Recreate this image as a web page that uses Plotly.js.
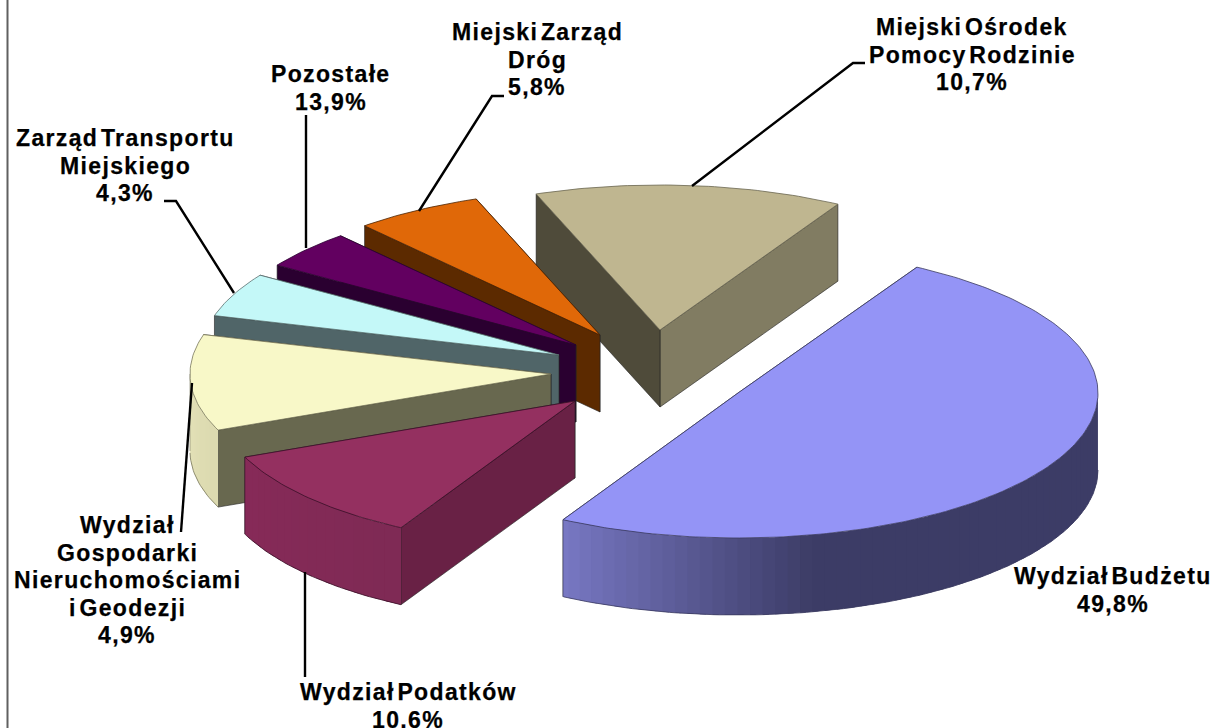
<!DOCTYPE html>
<html>
<head>
<meta charset="utf-8">
<script src="https://cdn.plot.ly/plotly-3.0.1.min.js"></script>
<style>
html,body{margin:0;padding:0;background:#fff}
#chart{width:1218px;height:728px}
.annotation-text{letter-spacing:1.35px;word-spacing:-5px;stroke:#000;stroke-width:0.25px}
</style>
</head>
<body>
<div id="chart"></div>
<script>
// ---- data ----
const sliceNames = ['Miejski Ośrodek Pomocy Rodzinie','Miejski Zarząd Dróg','Pozostałe','Zarząd Transportu Miejskiego','Wydział Gospodarki Nieruchomościami i Geodezji','Wydział Podatków','Wydział Budżetu'];
// printed percentages
const labelShares = [10.7, 5.8, 13.9, 4.3, 4.9, 10.6, 49.8];
// share of the circle each drawn sector actually takes up
const drawnShares = [13.9, 5.8, 4.3, 4.9, 10.7, 10.6, 49.8];

// ---- styles ----
const topColors   = ['#bfb690','#e06808','#620060','#c4f8f8','#f8f8c8','#943060','#9494f6'];
const faceColors  = ['#4f4b3a','#5c2a00','#2a0030','#506568','#68684f','#692145','#3c3c66'];
const endColors   = ['#817c62','#5c2a00','#2a0030','#506568','#68684f','#692145','#3c3c66'];
const sideDark    = ['#817c62','#5c2a00','#2a0030','#506568','#dcdab0','#7f2a55','#3c3c66'];
const sideLight   = ['#817c62','#5c2a00','#2a0030','#506568','#e4e2b8','#872a58','#7b7bc8'];
const flatUntil   = [0,0,0,0,157,119,76];
const edgeColors  = ['#6a6650','#4a2200','#2a0030','#5a7070','#77765a','#3a1028','#3a3a60'];

// ---- geometry of the tilted pie ----
const centerX = [660,600,576,559,551,575,738];
const centerY = [330,335,345,355,374,401,393];
const radiiX  = [358,358,358,358,361,358,360];
const radiusY = 145, depth = 77;
const firstAngle = 299.8;   // degrees, clockwise on screen, where the first sector ends

const labelLines = [
  ['Miejski Ośrodek','Pomocy Rodzinie'],['Miejski Zarząd','Dróg'],['Pozostałe'],
  ['Zarząd Transportu','Miejskiego'],['Wydział','Gospodarki','Nieruchomościami','i Geodezji'],
  ['Wydział Podatków'],['Wydział Budżetu']
];
const labelX = [972,537,331,125,127,408,1113];
const labelY = [27,32,74,138,525,692,576];
const lineGap = 27.5;
const leaderX = [[865,853,692],[504,492,419],[306,306],[164,176,234],[181,192],[305,305],[]];
const leaderY = [[63,63,186],[96,96,211],[115,248],[201,201,293],[532,383],[572,677],[]];

const rad = d => d*Math.PI/180;
const ex = (i,t) => centerX[i]+radiiX[i]*Math.cos(rad(t));
const ey = (i,t) => centerY[i]+radiusY*Math.sin(rad(t));
const hex = c => [1,3,5].map(k=>parseInt(c.substr(k,2),16));
function mix(a,b,f){const A=hex(a),B=hex(b);return 'rgb('+A.map((v,k)=>Math.round(v+(B[k]-v)*f)).join(',')+')';}
function poly(xs,ys,fill,line,w){
  return {type:'scatter',mode:'lines',x:xs,y:ys,fill:'toself',fillcolor:fill,
          line:{color:line,width:w},hoverinfo:'skip',showlegend:false};
}
function stroke(xs,ys,c,w){
  return {type:'scatter',mode:'lines',x:xs,y:ys,line:{color:c,width:w},hoverinfo:'skip',showlegend:false};
}

const traces = [];
let a = firstAngle;
drawnShares.forEach((share,i)=>{
  const t1 = a, t0 = a - share*3.6; a = t0;
  const cx = centerX[i], cy = centerY[i];
  // radial faces
  [[t1,endColors[i]],[t0,faceColors[i]]].forEach(([t,c])=>{
    traces.push(poly([cx,ex(i,t),ex(i,t),cx,cx],[cy,ey(i,t),ey(i,t)+depth,cy+depth,cy],c,'#222222',0.6));
  });
  // curved outer wall (only its front half shows); strips overlap so no seams appear
  const lo = Math.max(t0,0), hi = Math.min(t1,180);
  if (hi>lo){
    const step = 2;
    for (let t=hi-step;t>lo-step;t-=step){
      const s=Math.max(t,lo), e=Math.min(s+step+1,hi);
      const f=Math.max(0,Math.min(1,(s-flatUntil[i])/(hi-flatUntil[i]||1)));
      const c=mix(sideDark[i],sideLight[i],f);
      const xs=[],ys=[];
      for(let q=s;q<=e+1e-6;q+=0.5){xs.push(ex(i,q));ys.push(ey(i,q));}
      for(let q=e;q>=s-1e-6;q-=0.5){xs.push(ex(i,q));ys.push(ey(i,q)+depth);}
      xs.push(xs[0]);ys.push(ys[0]);
      traces.push(poly(xs,ys,c,c,0));
    }
    const bx=[],by=[];
    for(let q=lo;q<=hi+1e-6;q+=1){bx.push(ex(i,q));by.push(ey(i,q)+depth);}
    traces.push(stroke(bx,by,edgeColors[i],0.8));
    traces.push(stroke([ex(i,hi),ex(i,hi)],[ey(i,hi),ey(i,hi)+depth],edgeColors[i],0.6));
  }
  // top surface
  const xs=[cx],ys=[cy];
  for(let q=t0;q<=t1+1e-6;q+=1){xs.push(ex(i,q));ys.push(ey(i,q));}
  xs.push(ex(i,t1),cx);ys.push(ey(i,t1),cy);
  traces.push(poly(xs,ys,topColors[i],edgeColors[i],0.8));
});

// leader lines
leaderX.forEach((lx,i)=>{ if(lx.length) traces.push(stroke(lx,leaderY[i],'#000000',2.4)); });
// frame line on the left
traces.push(stroke([7.5,7.5],[0,728],'#606060',2));

const annotations = sliceNames.flatMap((n,i)=>
  labelLines[i].concat(labelShares[i].toFixed(1).replace('.',',')+'%').map((line,k)=>({
    xref:'x',yref:'y',x:labelX[i],y:labelY[i]+k*lineGap,xanchor:'center',yanchor:'middle',showarrow:false,
    text:line,
    font:{family:'"Liberation Sans",Arial,sans-serif',size:23,color:'#000000',weight:700}
  })));

Plotly.newPlot('chart',traces,{
  width:1218,height:728,margin:{l:0,r:0,t:0,b:0},
  paper_bgcolor:'#ffffff',plot_bgcolor:'#ffffff',showlegend:false,hovermode:false,
  xaxis:{range:[0,1218],visible:false,fixedrange:true},
  yaxis:{range:[728,0],visible:false,fixedrange:true},
  annotations
},{displayModeBar:false,staticPlot:true});
</script>
</body>
</html>
